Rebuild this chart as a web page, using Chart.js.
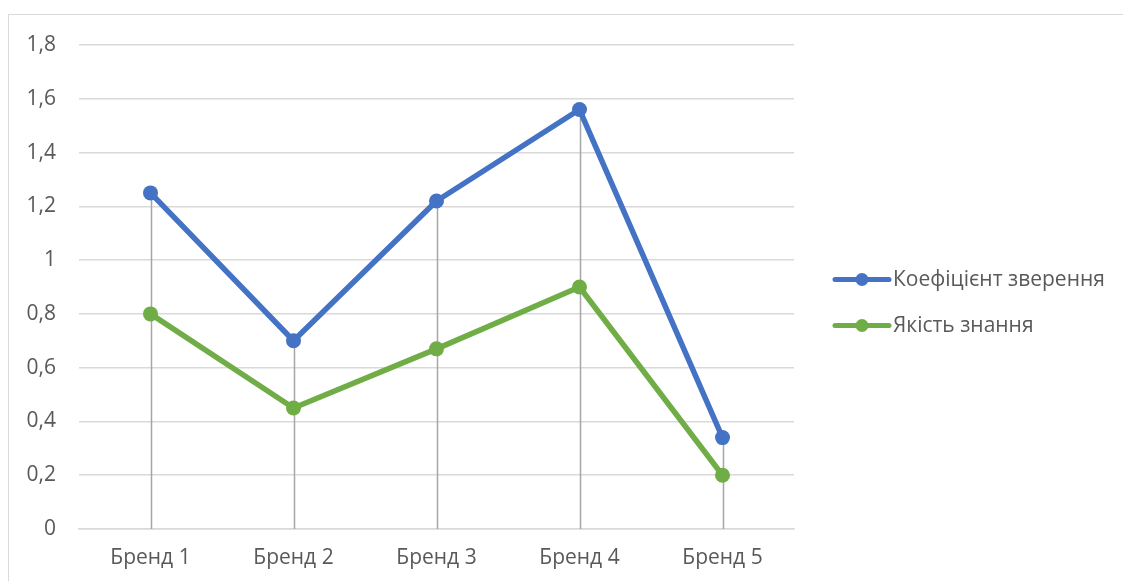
<!DOCTYPE html>
<html>
<head>
<meta charset="utf-8">
<script src="https://cdn.jsdelivr.net/npm/chart.js@4.4.1/dist/chart.umd.min.js"></script>
<style>
  html, body { margin: 0; padding: 0; background: #ffffff; }
  #wrap { position: relative; width: 1123px; height: 581px; overflow: hidden; }
  #frame { position: absolute; left: 8px; top: 14px; width: 1200px; height: 700px;
           border-top: 1.5px solid #d9d9d9; border-left: 1.5px solid #d9d9d9; box-sizing: border-box; }
  canvas { position: absolute; left: 0; top: 0; }
</style>
</head>
<body>
<div id="wrap">
  <div id="frame"></div>
  <canvas id="chart" width="1123" height="581"></canvas>
</div>
<script>
// Categories and series
const brands = ['Бренд 1', 'Бренд 2', 'Бренд 3', 'Бренд 4', 'Бренд 5'];
const conversionRate = [1.25, 0.70, 1.22, 1.56, 0.34];
const knowledgeQuality = [0.80, 0.45, 0.67, 0.90, 0.20];
const seriesNames = ['Коефіцієнт зверення', 'Якість знання'];
const seriesColors = ['#4472C4', '#70AD47'];

const FONT = '"Open Sans", sans-serif';
const FONT_SIZE = 21;
const TEXT = '#595959';

// Vertical drop lines from the highest point of each category down to the axis
const dropLines = {
  id: 'dropLines',
  beforeDatasetsDraw(chart) {
    const { ctx, scales: { x, y } } = chart;
    ctx.save();
    ctx.strokeStyle = '#a6a6a6';
    ctx.lineWidth = 1.5;
    brands.forEach((_, i) => {
      const top = Math.max(...chart.data.datasets.map(d => d.data[i]));
      const px = Math.round(x.getPixelForValue(i)) + 0.5;
      ctx.beginPath();
      ctx.moveTo(px, y.getPixelForValue(top));
      ctx.lineTo(px, y.getPixelForValue(0));
      ctx.stroke();
    });
    ctx.restore();
  }
};

// Legend on the right: line with a marker, then the series name
const sideLegend = {
  id: 'sideLegend',
  afterDraw(chart) {
    const { ctx, chartArea } = chart;
    const x0 = chartArea.right + 41;
    const yc = (chartArea.top + chartArea.bottom) / 2;
    const rowGap = 46;
    ctx.save();
    chart.data.datasets.forEach((d, i) => {
      const yy = yc - 7.5 + i * rowGap;
      ctx.strokeStyle = d.borderColor;
      ctx.lineWidth = 5;
      ctx.lineCap = 'round';
      ctx.beginPath();
      ctx.moveTo(x0, yy);
      ctx.lineTo(x0 + 54, yy);
      ctx.stroke();
      ctx.fillStyle = d.borderColor;
      ctx.beginPath();
      ctx.arc(x0 + 27, yy, 6.5, 0, Math.PI * 2);
      ctx.fill();
      ctx.fillStyle = TEXT;
      ctx.font = FONT_SIZE + 'px ' + FONT;
      ctx.textBaseline = 'middle';
      ctx.textAlign = 'left';
      ctx.fillText(d.label, x0 + 58, yy + 1);
    });
    ctx.restore();
  }
};

new Chart(document.getElementById('chart'), {
  type: 'line',
  data: {
    labels: brands,
    datasets: [
      { label: seriesNames[0], data: conversionRate, borderColor: seriesColors[0], backgroundColor: seriesColors[0] },
      { label: seriesNames[1], data: knowledgeQuality, borderColor: seriesColors[1], backgroundColor: seriesColors[1] }
    ]
  },
  options: {
    responsive: false,
    animation: false,
    devicePixelRatio: 1,
    layout: { padding: { left: 0, right: 329, top: 45, bottom: 0 } },
    elements: {
      line: { borderWidth: 5.5, tension: 0, borderCapStyle: 'round', borderJoinStyle: 'round' },
      point: { radius: 7.5, hoverRadius: 7.5, borderWidth: 0 }
    },
    plugins: {
      legend: { display: false },
      tooltip: { enabled: false }
    },
    scales: {
      x: {
        offset: true,
        grid: { display: false, drawTicks: false },
        border: { display: true, color: '#d9d9d9', width: 1.5 },
        ticks: { color: TEXT, font: { family: FONT, size: FONT_SIZE }, padding: 16 },
        afterFit(axis) { axis.height = 52; }
      },
      y: {
        min: 0,
        max: 1.8,
        ticks: {
          stepSize: 0.2,
          color: TEXT,
          font: { family: FONT, size: FONT_SIZE },
          padding: 23,
          callback: v => String(Number(v.toFixed(1))).replace('.', ',')
        },
        grid: { color: '#d9d9d9', lineWidth: 1.5, drawTicks: false },
        border: { display: false },
        afterFit(axis) { axis.width = 79; }
      }
    }
  },
  plugins: [dropLines, sideLegend]
});
</script>
</body>
</html>
